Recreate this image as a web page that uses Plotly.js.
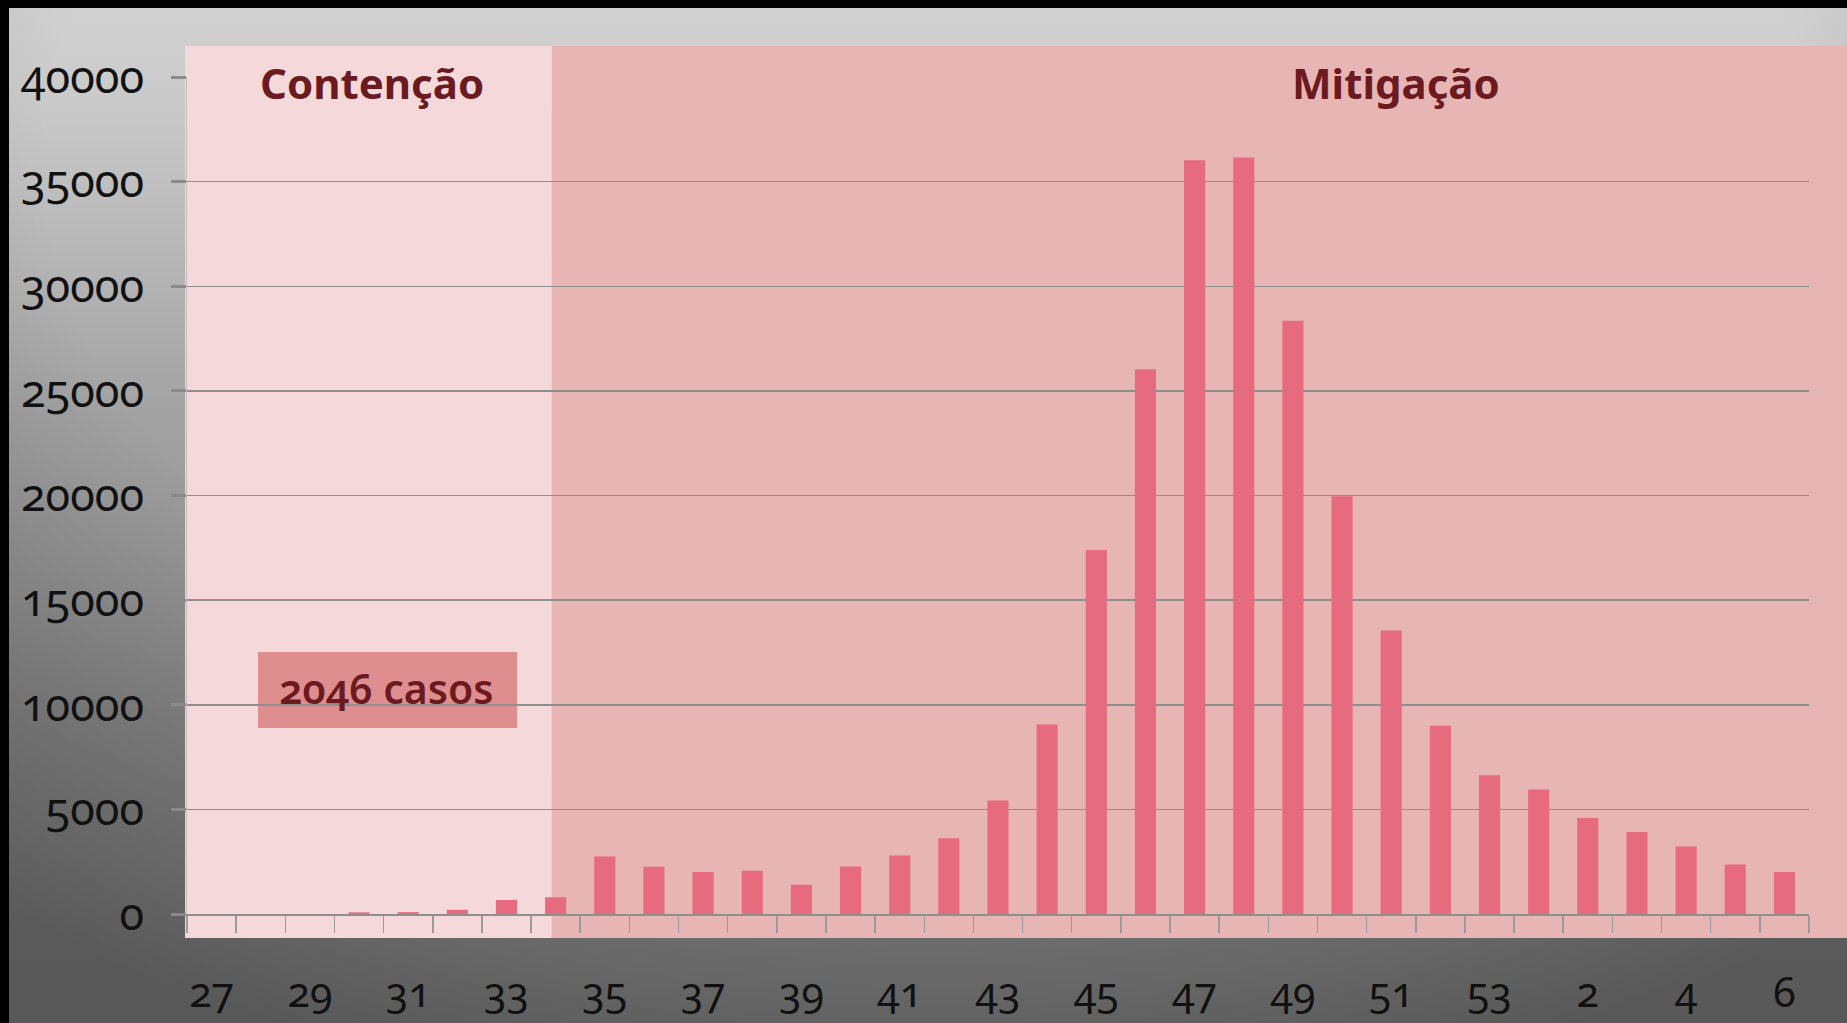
<!DOCTYPE html>
<html>
<head>
<meta charset="utf-8">
<script src="https://cdn.plot.ly/plotly-3.0.1.min.js"></script>
<style>
  html, body { margin: 0; padding: 0; background: #000; overflow: hidden; }
  #wrap { position: absolute; left: 0; top: 0; width: 1847px; height: 1023px; background: #000; }
  #bg { position: absolute; left: 9px; top: 8px; width: 1838px; height: 1015px;
        background:
          radial-gradient(ellipse 80% 95% at 50% 15%, rgba(0,0,0,0) 60%, rgba(0,0,0,0.30) 100%),
          linear-gradient(to bottom, #d1d1d1 0%, #c9c9c9 10%, #a2a2a2 40%, #8a8a8a 70%, #7e7e7e 100%); }
  #chart { position: absolute; left: 0; top: 0; width: 1847px; height: 1023px; }
  #chart svg text { font-variant-numeric: oldstyle-nums !important; font-feature-settings: "onum" 1 !important; }
</style>
</head>
<body>
<div id="wrap"><div id="bg"></div><div id="chart"></div></div>
<script>
// Epidemiological weeks (27..53 of one year, then 1..6 of the next)
const weeks = ['27','28','29','30','31','32','33','34','35','36','37','38','39','40','41','42','43','44','45','46','47','48','49','50','51','52','53','1','2','3','4','5','6'];
// Cases per week
const cases = [0, 0, 0, 80, 90, 200, 670, 800, 2750, 2260, 2010, 2070, 1400, 2270, 2800, 3620, 5430, 9060, 17400, 26030, 36020, 36150, 28350, 19960, 13550, 9000, 6630, 5950, 4590, 3920, 3230, 2370, 2010];
// Tick labels shown on the x axis (every other week)
const xLabels = weeks.map((w, i) => (i % 2 === 0 ? w : ''));
const yTicks = [0, 5000, 10000, 15000, 20000, 25000, 30000, 35000, 40000];
const phaseLabels = ['Contenção', 'Mitigação'];
const noteLabel = '2046 casos';

const darkRed = '#6b1a1f';

const trace = {
  type: 'bar',
  x: weeks,
  y: cases,
  marker: { color: '#e76b7e', line: { width: 0 } },
  hoverinfo: 'x+y'
};

const layout = {
  width: 1847,
  height: 1023,
  margin: { l: 187, r: 38, t: 77, b: 109, pad: 0 },
  paper_bgcolor: 'rgba(0,0,0,0)',
  plot_bgcolor: 'rgba(0,0,0,0)',
  showlegend: false,
  bargap: 0.57,
  font: { family: 'Noto Sans, sans-serif', color: '#111' },
  xaxis: {
    type: 'category',
    range: [-0.5, weeks.length - 0.5],
    tickmode: 'array',
    tickvals: weeks,
    ticktext: xLabels,
    tickson: 'boundaries',
    ticks: 'outside',
    ticklen: 17,
    tickwidth: 1.5,
    tickcolor: '#9a9a9a',
    showline: true,
    linecolor: '#8f8f8f',
    linewidth: 1.5,
    showgrid: false,
    zeroline: false,
    tickangle: 0,
    ticklabelstandoff: 42,
    tickfont: { family: 'Noto Sans, sans-serif', size: 41, color: '#111' },
    fixedrange: true
  },
  yaxis: {
    range: [0, 40000],
    tickmode: 'array',
    tickvals: yTicks,
    ticktext: yTicks.map(String),
    ticks: 'outside',
    ticklen: 15,
    tickwidth: 3,
    tickcolor: '#8a8a8a',
    showline: true,
    linecolor: '#c9b9ba',
    linewidth: 1,
    showgrid: true,
    gridcolor: '#8e8e8e',
    gridwidth: 1.5,
    zeroline: false,
    ticklabelstandoff: 18,
    tickfont: { family: 'Noto Sans, sans-serif', size: 45, color: '#111' },
    fixedrange: true
  },
  shapes: [
    { type: 'rect', xref: 'paper', yref: 'paper', layer: 'below',
      x0: -0.0012, x1: 0.225, y0: -0.0287, y1: 1.037,
      fillcolor: '#f5d9da', line: { width: 0 } },
    { type: 'rect', xref: 'paper', yref: 'paper', layer: 'below',
      x0: 0.225, x1: 1.03, y0: -0.0287, y1: 1.037,
      fillcolor: '#e8b5b5', line: { width: 0 } },
    { type: 'rect', xref: 'paper', yref: 'paper', layer: 'below',
      x0: 0.0438, x1: 0.2035, y0: 0.2222, y1: 0.313,
      fillcolor: '#de8e8f', line: { width: 0 } }
  ],
  annotations: [
    { text: phaseLabels[0], xref: 'paper', yref: 'paper', x: 0.114, y: 0.9934,
      xanchor: 'center', yanchor: 'middle', showarrow: false,
      font: { family: 'Noto Sans, sans-serif', size: 42, weight: 'bold', color: darkRed } },
    { text: phaseLabels[1], xref: 'paper', yref: 'paper', x: 0.7454, y: 0.9934,
      xanchor: 'center', yanchor: 'middle', showarrow: false,
      font: { family: 'Noto Sans, sans-serif', size: 42, weight: 'bold', color: darkRed } },
    { text: noteLabel, xref: 'paper', yref: 'paper', x: 0.1233, y: 0.27,
      xanchor: 'center', yanchor: 'middle', showarrow: false,
      font: { family: 'Noto Sans, sans-serif', size: 41, weight: 600, color: darkRed } }
  ]
};

Plotly.newPlot('chart', [trace], layout, { displayModeBar: false, staticPlot: true });
</script>
</body>
</html>
